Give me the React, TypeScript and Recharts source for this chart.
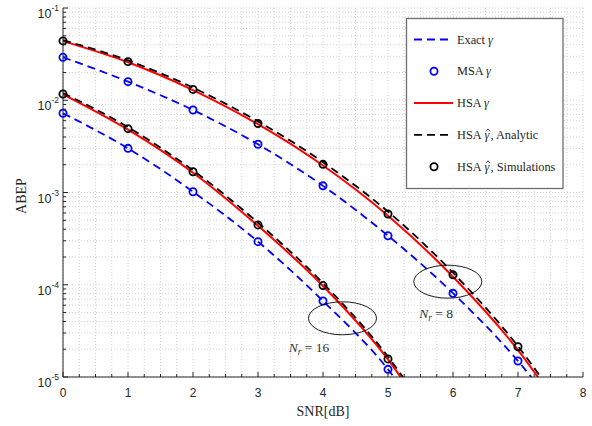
import React from 'react'
import {
  ComposedChart,
  Line,
  XAxis,
  YAxis,
  CartesianGrid,
  ReferenceDot,
} from 'recharts'

// SNR points in dB
const SNR = [0, 1, 2, 3, 4, 5, 6, 7, 8]

// N_r = 8
const EXACT_8 = [0.0292, 0.0159, 0.00784, 0.00333, 0.00118, 0.00034, 8.1e-5, 1.49e-5, 1.8e-6]
const MSA_8 = [0.0292, 0.0159, 0.00784, 0.00333, 0.00118, 0.00034, 8.07e-5, 1.49e-5]
const HSA_8 = [0.0437, 0.0258, 0.0129, 0.0055, 0.00196, 0.00056, 0.000122, 1.96e-5, 1.9e-6]
const HSA_HAT_8 = [0.0448, 0.027, 0.0137, 0.0059, 0.00213, 0.00062, 0.000135, 2.15e-5, 2.1e-6]
const SIM_8 = [0.044, 0.0262, 0.0131, 0.0056, 0.00202, 0.000585, 0.000128, 2.13e-5]

// N_r = 16
const EXACT_16 = [0.00722, 0.00301, 0.00102, 0.000293, 6.67e-5, 1.21e-5, 1.1e-6]
const MSA_16 = [0.00722, 0.00301, 0.00102, 0.000293, 6.67e-5, 1.21e-5]
const HSA_16 = [0.0116, 0.0048, 0.00164, 0.000435, 9.7e-5, 1.55e-5, 1.3e-6]
const HSA_HAT_16 = [0.012, 0.0051, 0.00174, 0.00047, 0.000104, 1.66e-5, 1.5e-6]
const SIM_16 = [0.0117, 0.00492, 0.00168, 0.000445, 9.8e-5, 1.57e-5]

const X_TICKS = Array.from({ length: 33 }, (_, i) => i * 0.25)
const DECADES = [-5, -4, -3, -2]
const Y_TICKS = [
  ...DECADES.flatMap((e) => [1, 2, 3, 4, 5, 6, 7, 8, 9].map((m) => m * Math.pow(10, e))),
  0.1,
]

// ellipse markers and N_r labels, in data units
const ELLIPSES = [
  { x: 5.92, y: 1.08e-4 },
  { x: 4.3, y: 4.33e-5 },
]
const NR_LABELS = [
  { x: 5.74, y: 4.98e-5, text: '8' },
  { x: 3.785, y: 2.1e-5, text: '16' },
]

const AXIS = '#262626'
const SANS = '"Liberation Sans", Arial, sans-serif'
const SERIF = '"Liberation Serif", "Times New Roman", serif'

const pts = (vals: number[]) => vals.map((v, i) => ({ x: SNR[i], y: v }))

const isMajor = (v: number) => Math.abs(Math.log10(v) - Math.round(Math.log10(v))) < 1e-6

const BottomTick = ({ x, y, payload }: any) => {
  const major = Number.isInteger(payload.value)
  return (
    <g>
      <line x1={x} x2={x} y1={y} y2={y - (major ? 5 : 3)} stroke={AXIS} />
      {major && (
        <text x={x} y={y + 20} textAnchor="middle" fontSize={12} fontFamily={SANS} fill={AXIS}>
          {payload.value}
        </text>
      )}
    </g>
  )
}

const TopTick = ({ x, y, payload }: any) => {
  const major = Number.isInteger(payload.value)
  return <line x1={x} x2={x} y1={y} y2={y + (major ? 5 : 3)} stroke={AXIS} />
}

const LeftTick = ({ x, y, payload }: any) => {
  const major = isMajor(payload.value)
  return (
    <g>
      <line x1={x} x2={x + (major ? 5 : 3)} y1={y} y2={y} stroke={AXIS} />
      {major && (
        <text x={x - 4} y={y + 10} textAnchor="end" fontSize={12.5} fontFamily={SANS} fill={AXIS}>
          10
          <tspan dy={-7} fontSize={8.5}>
            {Math.round(Math.log10(payload.value))}
          </tspan>
        </text>
      )}
    </g>
  )
}

const RightTick = ({ x, y, payload }: any) => {
  const major = isMajor(payload.value)
  return <line x1={x} x2={x - (major ? 5 : 3)} y1={y} y2={y} stroke={AXIS} />
}

const EllipseShape = ({ cx, cy }: any) => (
  <ellipse cx={cx} cy={cy} rx={34} ry={16.5} fill="none" stroke="#000" strokeWidth={0.9} />
)

const nrShape = (text: string) => ({ cx, cy }: any) => (
  <text x={cx} y={cy + 5} textAnchor="middle" fontSize={13.5} fontFamily={SERIF} fill="#333">
    <tspan fontStyle="italic">N</tspan>
    <tspan fontStyle="italic" fontSize={9.5} dy={3}>r</tspan>
    <tspan dy={-3}> = {text}</tspan>
  </text>
)

const LEGEND_ROWS = [
  { label: 'Exact', hat: false, extra: '', kind: 'line', color: '#0000ff', dash: '8 5' },
  { label: 'MSA', hat: false, extra: '', kind: 'dot', color: '#0000ff', dash: '' },
  { label: 'HSA', hat: false, extra: '', kind: 'line', color: '#ff0000', dash: '' },
  { label: 'HSA', hat: true, extra: ', Analytic', kind: 'line', color: '#000', dash: '8 5' },
  { label: 'HSA', hat: true, extra: ', Simulations', kind: 'dot', color: '#000', dash: '' },
]

function Overlay() {
  const txt = { fontSize: 12.3, fontFamily: SERIF, fill: AXIS }
  return (
    <svg
      width={592}
      height={426}
      style={{ position: 'absolute', left: 0, top: 0, pointerEvents: 'none' }}
    >
      <rect x={406.5} y={18.5} width={156.5} height={170} fill="#fff" stroke="#6e6e6e" strokeWidth={1.3} />
      {LEGEND_ROWS.map((r, i) => {
        const cy = 39.5 + i * 31.8
        return (
          <g key={i}>
            {r.kind === 'line' ? (
              <line
                x1={414}
                x2={453}
                y1={cy}
                y2={cy}
                stroke={r.color}
                strokeWidth={r.color === '#ff0000' ? 2 : 1.8}
                strokeDasharray={r.dash || undefined}
              />
            ) : (
              <circle cx={434} cy={cy} r={3.6} fill="none" stroke={r.color} strokeWidth={1.8} />
            )}
            {r.hat ? (
              <g>
                <text x={457} y={cy + 4} {...txt}>{r.label}</text>
                <text x={484.5} y={cy + 4} {...txt} fontStyle="italic">γ</text>
                <polyline
                  points={`${486},${cy - 3.5} ${488},${cy - 6} ${490},${cy - 3.5}`}
                  fill="none"
                  stroke={AXIS}
                  strokeWidth={0.8}
                />
                <text x={490.5} y={cy + 4} {...txt}>{r.extra}</text>
              </g>
            ) : (
              <text x={457} y={cy + 4} {...txt}>
                {r.label} <tspan fontStyle="italic">γ</tspan>
              </text>
            )}
          </g>
        )
      })}
      <text x={323} y={416} textAnchor="middle" fontSize={14} fontFamily={SERIF} fill={AXIS}>
        SNR[dB]
      </text>
      <text
        x={26}
        y={196}
        textAnchor="middle"
        fontSize={14}
        fontFamily={SERIF}
        fill={AXIS}
        transform="rotate(-90 26 196)"
      >
        ABEP
      </text>
    </svg>
  )
}

export default function App() {
  const dot = (color: string) => ({ r: 3.6, stroke: color, strokeWidth: 1.8, fill: 'none' })

  return (
    <div style={{ position: 'absolute', left: 0, top: 0, width: 592, height: 426, background: '#fff' }}>
      <ComposedChart width={592} height={426} margin={{ top: 8, right: 9, bottom: 0, left: 0 }}>
        <CartesianGrid
          stroke="#d4d4d4"
          strokeDasharray="1 2"
          verticalValues={X_TICKS}
          horizontalValues={Y_TICKS}
        />
        <XAxis
          dataKey="x"
          type="number"
          domain={[0, 8]}
          ticks={X_TICKS}
          interval={0}
          height={49}
          tickSize={0}
          tickMargin={0}
          tickLine={false}
          tick={<BottomTick />}
          stroke={AXIS}
          allowDuplicatedCategory={false}
        />
        <XAxis
          xAxisId="top"
          orientation="top"
          dataKey="x"
          type="number"
          domain={[0, 8]}
          ticks={X_TICKS}
          interval={0}
          height={0}
          tickSize={0}
          tickMargin={0}
          tickLine={false}
          tick={<TopTick />}
          stroke={AXIS}
        />
        <YAxis
          dataKey="y"
          scale="log"
          domain={[1e-5, 1e-1]}
          allowDataOverflow
          ticks={Y_TICKS}
          interval={0}
          width={63}
          tickSize={0}
          tickMargin={0}
          tickLine={false}
          tick={<LeftTick />}
          stroke={AXIS}
        />
        <YAxis
          yAxisId="right"
          orientation="right"
          scale="log"
          domain={[1e-5, 1e-1]}
          allowDataOverflow
          ticks={Y_TICKS}
          interval={0}
          width={0}
          tickSize={0}
          tickMargin={0}
          tickLine={false}
          tick={<RightTick />}
          stroke={AXIS}
        />

        <Line data={pts(EXACT_8)} dataKey="y" type="monotone" stroke="#0000ff" strokeWidth={1.8} strokeDasharray="8 5" dot={false} isAnimationActive={false} />
        <Line data={pts(EXACT_16)} dataKey="y" type="monotone" stroke="#0000ff" strokeWidth={1.8} strokeDasharray="8 5" dot={false} isAnimationActive={false} />
        <Line data={pts(HSA_8)} dataKey="y" type="monotone" stroke="#ff0000" strokeWidth={2} dot={false} isAnimationActive={false} />
        <Line data={pts(HSA_16)} dataKey="y" type="monotone" stroke="#ff0000" strokeWidth={2} dot={false} isAnimationActive={false} />
        <Line data={pts(HSA_HAT_8)} dataKey="y" type="monotone" stroke="#000" strokeWidth={1.8} strokeDasharray="8 5" dot={false} isAnimationActive={false} />
        <Line data={pts(HSA_HAT_16)} dataKey="y" type="monotone" stroke="#000" strokeWidth={1.8} strokeDasharray="8 5" dot={false} isAnimationActive={false} />
        <Line data={pts(MSA_8)} dataKey="y" stroke="none" dot={dot('#0000ff')} activeDot={false} isAnimationActive={false} />
        <Line data={pts(MSA_16)} dataKey="y" stroke="none" dot={dot('#0000ff')} activeDot={false} isAnimationActive={false} />
        <Line data={pts(SIM_8)} dataKey="y" stroke="none" dot={dot('#000')} activeDot={false} isAnimationActive={false} />
        <Line data={pts(SIM_16)} dataKey="y" stroke="none" dot={dot('#000')} activeDot={false} isAnimationActive={false} />

        {ELLIPSES.map((e, i) => (
          <ReferenceDot key={`e-${i}`} x={e.x} y={e.y} shape={<EllipseShape />} />
        ))}
        {NR_LABELS.map((l, i) => (
          <ReferenceDot key={`l-${i}`} x={l.x} y={l.y} shape={nrShape(l.text)} />
        ))}
      </ComposedChart>
      <Overlay />
    </div>
  )
}
